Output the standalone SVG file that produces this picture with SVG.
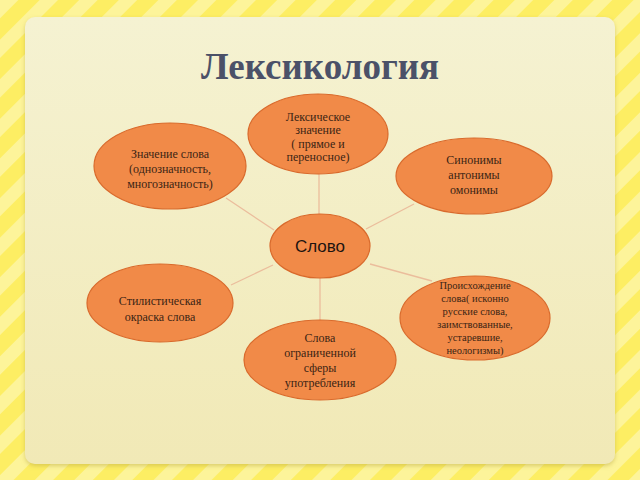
<svg xmlns="http://www.w3.org/2000/svg" width="640" height="480" viewBox="0 0 640 480">
<defs>
<pattern id="stripes" patternUnits="userSpaceOnUse" width="28" height="28" patternTransform="rotate(45)">
<rect width="28" height="28" fill="#fdee63"/>
<rect width="13" height="28" fill="#fdf49a"/>
</pattern>
<linearGradient id="panel" x1="0" y1="0" x2="0" y2="1">
<stop offset="0" stop-color="#f5f2d2"/>
<stop offset="1" stop-color="#f1e9b6"/>
</linearGradient>
<filter id="sh" x="-5%" y="-5%" width="110%" height="110%">
<feDropShadow dx="0" dy="2" stdDeviation="2" flood-color="#b8a640" flood-opacity="0.5"/>
</filter>
<style>
.n{fill:#f18a48;stroke:#d96a2c;stroke-width:1.2}
.t{font-family:"Liberation Serif","Times New Roman",serif;font-size:12px;fill:#3a2414;text-anchor:middle}
.s{font-size:10.5px}
.c{stroke:#ebbd9c;stroke-width:1.3;fill:none}
</style>
</defs>
<rect width="640" height="480" fill="url(#stripes)"/>
<rect x="25" y="17" width="590" height="447" rx="10" fill="url(#panel)" filter="url(#sh)"/>
<text x="320" y="79" font-family="Liberation Serif,'Times New Roman',serif" font-size="37" font-weight="bold" fill="#4b5168" text-anchor="middle">Лексикология</text>
<g id="connectors">
<line class="c" x1="319" y1="174" x2="319" y2="215"/>
<line class="c" x1="226" y1="198" x2="274" y2="230"/>
<line class="c" x1="366" y1="229" x2="414" y2="204"/>
<line class="c" x1="231" y1="285" x2="273" y2="265"/>
<line class="c" x1="320" y1="278" x2="320" y2="320"/>
<line class="c" x1="370" y1="264" x2="432" y2="281"/>
</g>
<g id="center">
<ellipse class="n" cx="320" cy="246" rx="50" ry="32"/>
<text x="320" y="252" font-family="Liberation Sans,Arial,sans-serif" font-size="17" fill="#1e1410" text-anchor="middle">Слово</text>
</g>
<g id="lexical">
<ellipse class="n" cx="318" cy="134" rx="70" ry="40"/>
<text class="t"><tspan x="318" y="121">Лексическое</tspan><tspan x="318" y="134">значение</tspan><tspan x="318" y="148">( прямое и</tspan><tspan x="318" y="161">переносное)</tspan></text>
</g>
<g id="meaning">
<ellipse class="n" cx="170" cy="166" rx="76" ry="43"/>
<text class="t"><tspan x="170" y="158">Значение слова</tspan><tspan x="170" y="173">(однозначность,</tspan><tspan x="170" y="188">многозначность)</tspan></text>
</g>
<g id="synonyms">
<ellipse class="n" cx="474" cy="176" rx="78" ry="38"/>
<text class="t"><tspan x="474" y="164">Синонимы</tspan><tspan x="474" y="179">антонимы</tspan><tspan x="474" y="194">омонимы</tspan></text>
</g>
<g id="style">
<ellipse class="n" cx="160" cy="303" rx="73" ry="39"/>
<text class="t"><tspan x="160" y="305">Стилистическая</tspan><tspan x="160" y="321">окраска слова</tspan></text>
</g>
<g id="limited">
<ellipse class="n" cx="320" cy="360" rx="76" ry="40"/>
<text class="t"><tspan x="320" y="342">Слова</tspan><tspan x="320" y="357">ограниченной</tspan><tspan x="320" y="372">сферы</tspan><tspan x="320" y="387">употребления</tspan></text>
</g>
<g id="origin">
<ellipse class="n" cx="475" cy="318" rx="75" ry="42"/>
<text class="t s"><tspan x="475" y="289">Происхождение</tspan><tspan x="475" y="302">слова( исконно</tspan><tspan x="475" y="315">русские слова,</tspan><tspan x="475" y="328">заимствованные,</tspan><tspan x="475" y="341">устаревшие,</tspan><tspan x="475" y="354">неологизмы)</tspan></text>
</g>
</svg>
